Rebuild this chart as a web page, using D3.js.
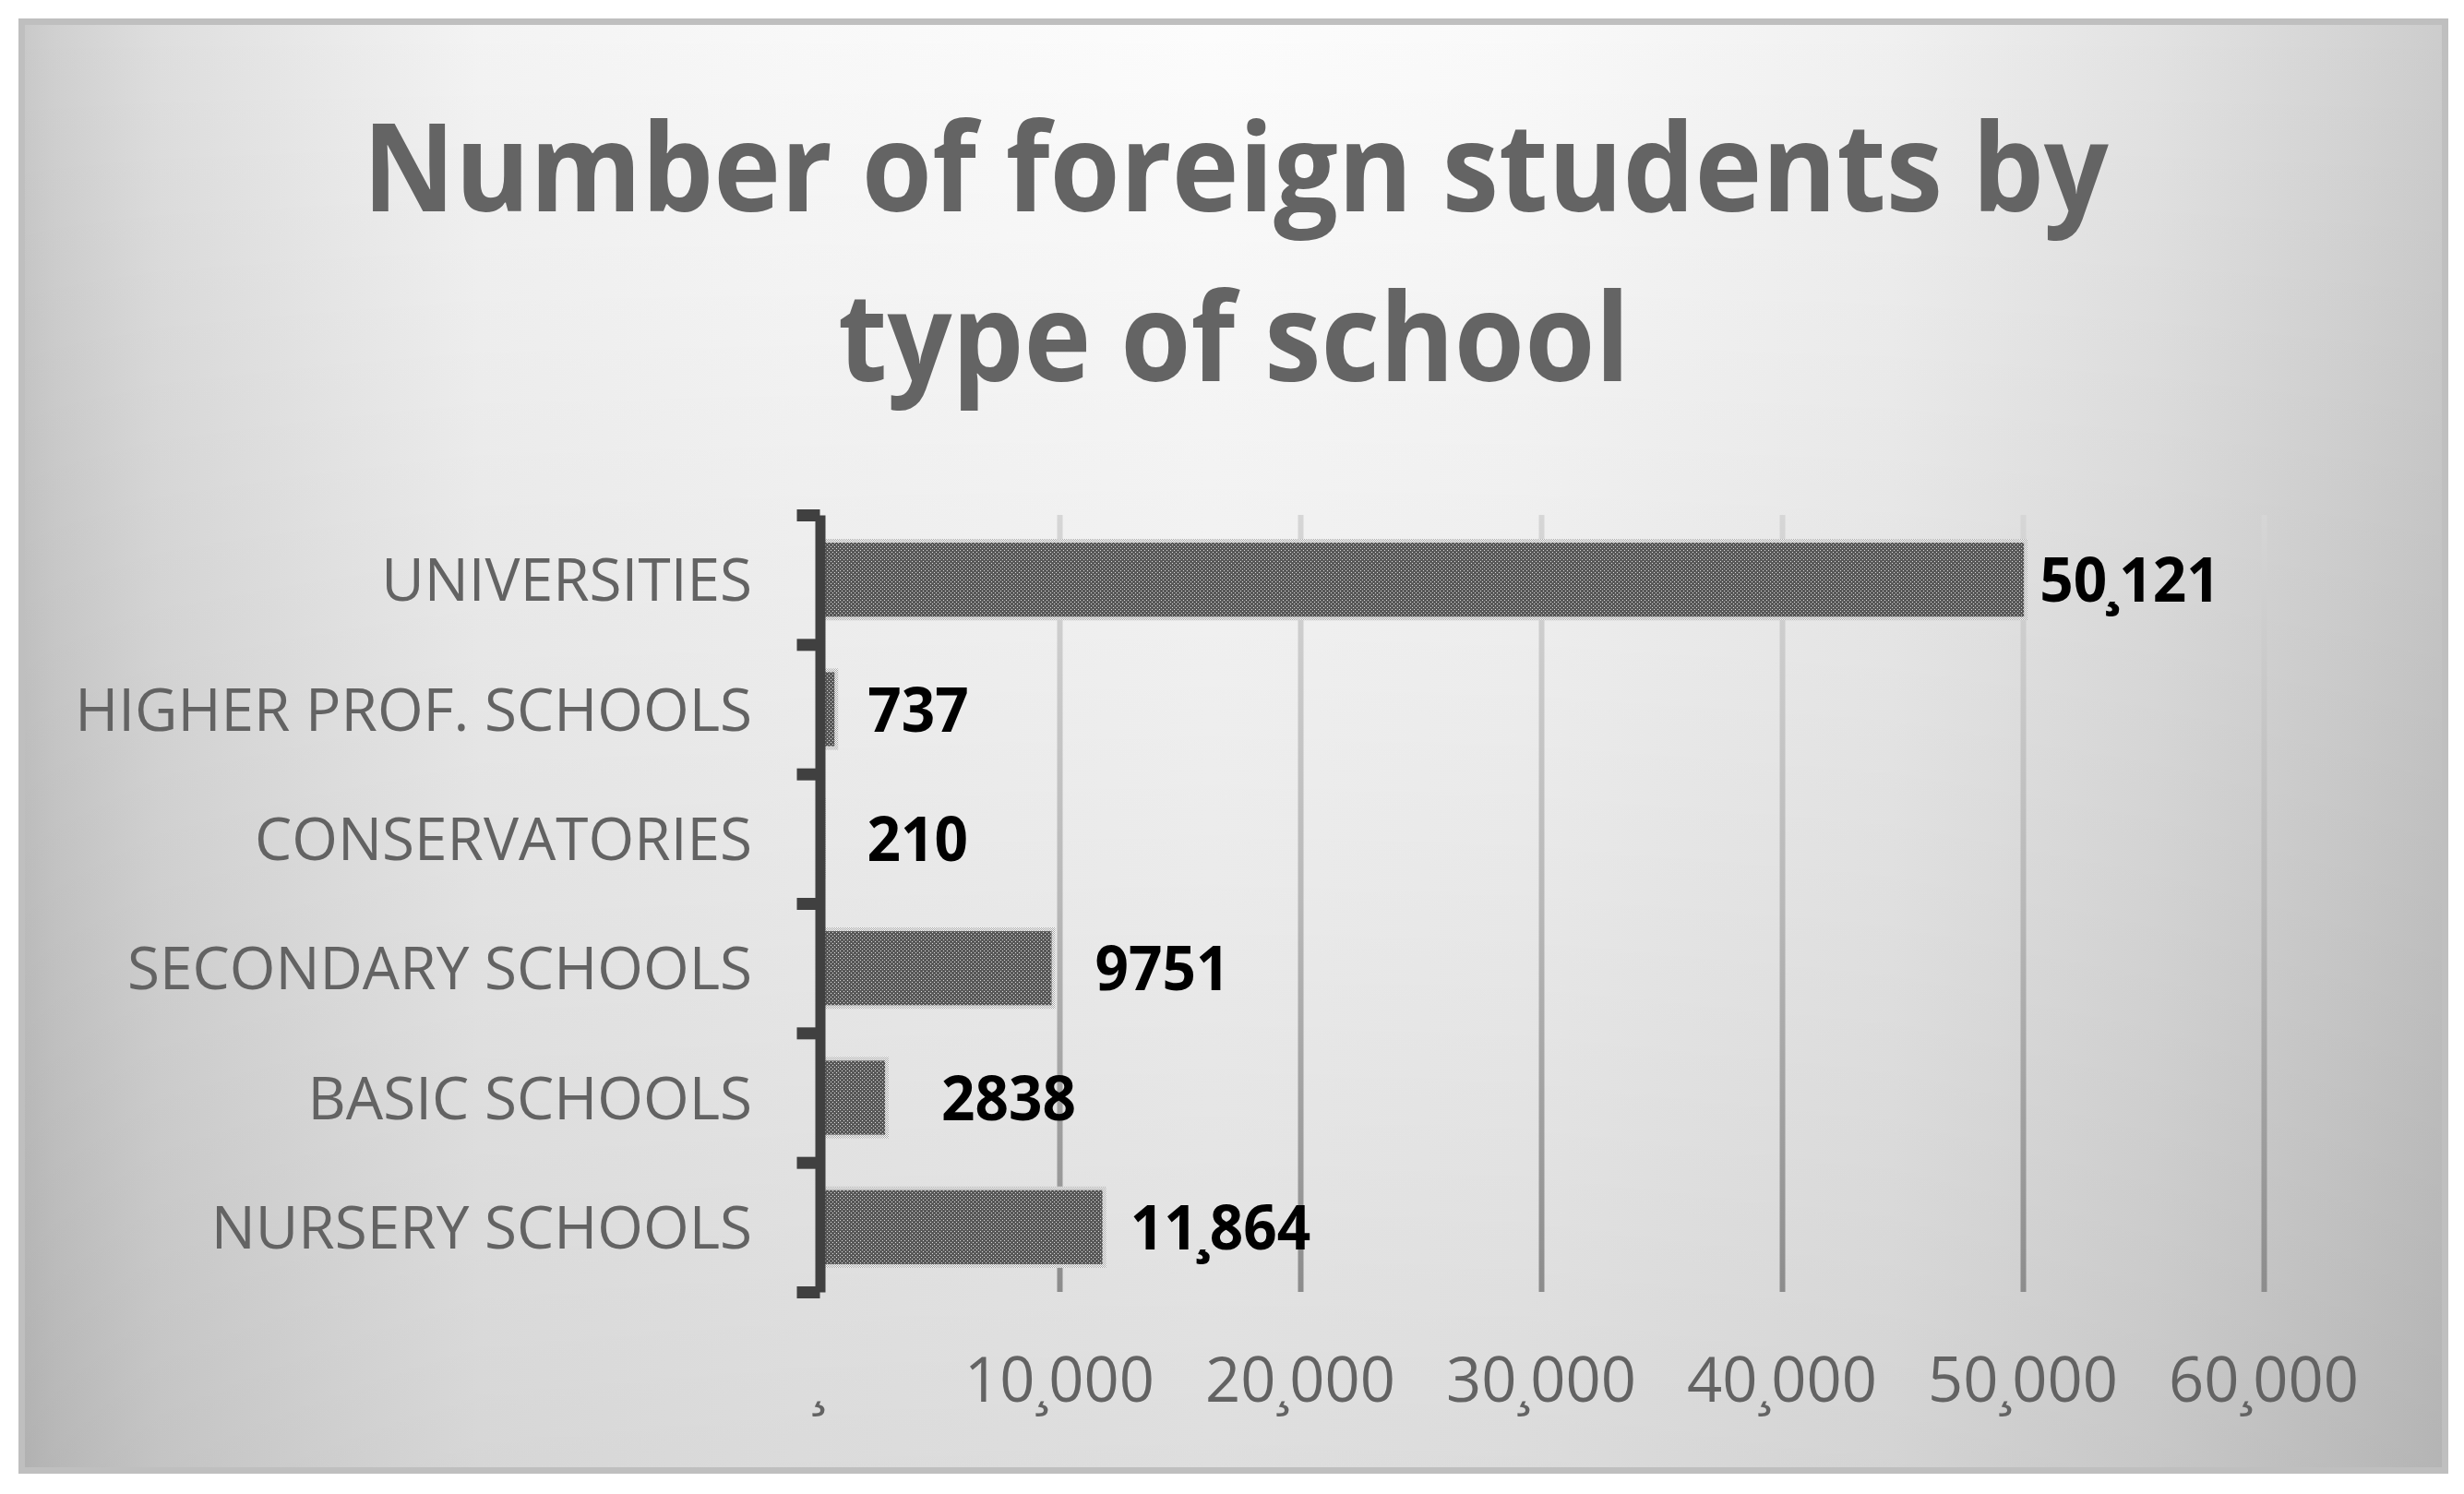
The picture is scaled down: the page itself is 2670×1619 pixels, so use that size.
<!DOCTYPE html>
<html>
<head>
<meta charset="utf-8">
<script src="https://cdn.jsdelivr.net/npm/d3@7"></script>
<style>
  body { margin: 0; background: #ffffff; }
  svg { display: block; }
</style>
</head>
<body>
<script>
// ---------------- DATA ----------------
const categories = ["UNIVERSITIES", "HIGHER PROF. SCHOOLS", "CONSERVATORIES", "SECONDARY SCHOOLS", "BASIC SCHOOLS", "NURSERY SCHOOLS"];
const values = [50121, 737, 210, 9751, 2838, 11864];
const valueLabels = ["50¸121", "737", "210", "9751", "2838", "11¸864"];
const tickValues = [0, 10000, 20000, 30000, 40000, 50000, 60000];
const tickLabels = ["¸", "10¸000", "20¸000", "30¸000", "40¸000", "50¸000", "60¸000"];
const titleLines = ["Number of foreign students by", "type of school"];

// ---------------- LAYOUT ----------------
const W = 2670, H = 1619;
const frame = { x: 20, y: 20, w: 2633, h: 1577, border: 7 };
const plot = { left: 887, right: 2453, top: 558, bottom: 1400 };
const labelNudge = [15, 34, 47, 45, 59, 28];   // manual data-label offsets (px) as in the original
const FONT = "'Open Sans', 'Noto Sans', sans-serif";

const svg = d3.select("body").append("svg").attr("width", W).attr("height", H);
const defs = svg.append("defs");

// background: horizontal light band + vertical darkening
const bgH = defs.append("linearGradient").attr("id", "bgH")
  .attr("gradientUnits", "userSpaceOnUse")
  .attr("x1", frame.x).attr("y1", 0).attr("x2", frame.x + frame.w).attr("y2", 0);
[[0, 200], [0.015, 208], [0.058, 222], [0.123, 233], [0.189, 243], [0.32, 248], [0.49, 252], [0.62, 249], [0.771, 240], [0.88, 226], [0.961, 212], [1, 204]]
  .forEach(([o, v]) => bgH.append("stop").attr("offset", o).attr("stop-color", d3.rgb(v, v, v)));

const bgV = defs.append("linearGradient").attr("id", "bgV")
  .attr("gradientUnits", "userSpaceOnUse")
  .attr("x1", 0).attr("y1", frame.y).attr("x2", 0).attr("y2", frame.y + frame.h);
bgV.append("stop").attr("offset", 0).attr("stop-color", "#000").attr("stop-opacity", 0);
bgV.append("stop").attr("offset", 0.6).attr("stop-color", "#000").attr("stop-opacity", 0.07);
bgV.append("stop").attr("offset", 1).attr("stop-color", "#000").attr("stop-opacity", 0.12);

// gridline gradient (in the gridline group's local coordinates: y from -(height) to 0)
const gg = defs.append("linearGradient").attr("id", "gridGrad")
  .attr("gradientUnits", "userSpaceOnUse")
  .attr("x1", 0).attr("y1", plot.top - plot.bottom).attr("x2", 0).attr("y2", 0);
gg.append("stop").attr("offset", 0).attr("stop-color", "#d6d6d6");
gg.append("stop").attr("offset", 0.5).attr("stop-color", "#b8b8b8");
gg.append("stop").attr("offset", 1).attr("stop-color", "#8c8c8c");

// bar patterns
const pDots = defs.append("pattern").attr("id", "dots")
  .attr("patternUnits", "userSpaceOnUse").attr("width", 4).attr("height", 4);
pDots.append("rect").attr("width", 4).attr("height", 4).attr("fill", "#585858");
pDots.append("rect").attr("x", 0).attr("y", 0).attr("width", 1).attr("height", 1).attr("fill", "#dadada");
pDots.append("rect").attr("x", 2).attr("y", 2).attr("width", 1).attr("height", 1).attr("fill", "#dadada");

const pCheck = defs.append("pattern").attr("id", "check")
  .attr("patternUnits", "userSpaceOnUse").attr("width", 2).attr("height", 2);
pCheck.append("rect").attr("width", 2).attr("height", 2).attr("fill", "#a4a4a4");
pCheck.append("rect").attr("x", 0).attr("y", 0).attr("width", 1).attr("height", 1).attr("fill", "#ffffff");
pCheck.append("rect").attr("x", 1).attr("y", 1).attr("width", 1).attr("height", 1).attr("fill", "#ffffff");

// frame
const b = frame.border;
svg.append("rect").attr("x", frame.x).attr("y", frame.y).attr("width", frame.w).attr("height", frame.h).attr("fill", "url(#bgH)");
svg.append("rect").attr("x", frame.x).attr("y", frame.y).attr("width", frame.w).attr("height", frame.h).attr("fill", "url(#bgV)");
svg.append("rect").attr("x", frame.x + b / 2).attr("y", frame.y + b / 2)
  .attr("width", frame.w - b).attr("height", frame.h - b)
  .attr("fill", "none").attr("stroke", "#bfbfbf").attr("stroke-width", b);

// text helpers
function measure(str, size, weight) {
  const t = svg.append("text").attr("font-family", FONT).attr("font-size", size)
    .attr("font-weight", weight).text(str);
  const w = t.node().getComputedTextLength();
  t.remove();
  return w;
}
function addText(g, str, x, y, o) {
  return g.append("text")
    .attr("transform", `translate(${x},${y}) scale(${o.sx},1)`)
    .attr("font-family", FONT).attr("font-size", o.size).attr("font-weight", o.weight)
    .attr("fill", o.fill).attr("text-anchor", o.anchor).text(str);
}

// ---------------- SCALES ----------------
const x = d3.scaleLinear().domain([0, 60000]).range([plot.left, plot.right]);
const y = d3.scaleBand().domain(categories).range([plot.top, plot.bottom])
  .paddingInner(0.4).paddingOuter(0.2);
const boundary = d3.scaleLinear().domain([0, categories.length]).range([plot.top, plot.bottom]);

// title
const titleStyle = { size: 132, weight: 700, fill: "#646464", anchor: "middle" };
titleStyle.sx = 1892 / measure(titleLines[0], titleStyle.size, titleStyle.weight);
const gTitle = svg.append("g");
addText(gTitle, titleLines[0], 1339, 229, titleStyle);
addText(gTitle, titleLines[1], 1337, 413, titleStyle);

// gridlines
const gGrid = svg.append("g").attr("transform", `translate(0,${plot.bottom})`)
  .call(d3.axisBottom(x).tickValues(tickValues.slice(1)).tickSize(-(plot.bottom - plot.top)).tickFormat(""));
gGrid.select(".domain").remove();
gGrid.selectAll(".tick line").attr("stroke", "url(#gridGrad)").attr("stroke-width", 6);

// bars
svg.append("g").selectAll("rect").data(values).join("rect")
  .attr("x", x(0))
  .attr("y", (d, i) => y(categories[i]))
  .attr("width", d => x(d) - x(0))
  .attr("height", y.bandwidth())
  .attr("fill", "url(#dots)")
  .attr("stroke", "url(#check)")
  .attr("stroke-width", 4);

// category axis (boundary ticks)
const gAxis = svg.append("g").attr("transform", `translate(${plot.left + 1.5},0)`)
  .call(d3.axisLeft(boundary).tickValues(d3.range(categories.length + 1)).tickSize(25).tickSizeOuter(0).tickFormat(""));
gAxis.select(".domain").attr("stroke", "#404040").attr("stroke-width", 11);
gAxis.selectAll(".tick line").attr("stroke", "#404040").attr("stroke-width", 13);
gAxis.selectAll(".tick text").remove();

// category labels
const catStyle = { size: 64.4, weight: 400, fill: "#636363", anchor: "end" };
catStyle.sx = 734 / measure("HIGHER PROF. SCHOOLS", catStyle.size, catStyle.weight);
const gCat = svg.append("g");
categories.forEach(c => addText(gCat, c, plot.left - 72, y(c) + y.bandwidth() / 2 + 23, catStyle));

// value tick labels
const tickStyle = { size: 67, weight: 400, fill: "#636363", anchor: "middle" };
tickStyle.sx = 206 / measure("10¸000", tickStyle.size, tickStyle.weight);
const gTicks = svg.append("g");
tickValues.forEach((v, i) => addText(gTicks, tickLabels[i], x(v), 1519, tickStyle));

// data labels
const valStyle = { size: 67, weight: 700, fill: "#000000", anchor: "start" };
valStyle.sx = 146 / measure("9751", valStyle.size, valStyle.weight);
const gVals = svg.append("g");
values.forEach((v, i) => addText(gVals, valueLabels[i], x(v) + labelNudge[i], y(categories[i]) + y.bandwidth() / 2 + 24, valStyle));
</script>
</body>
</html>
